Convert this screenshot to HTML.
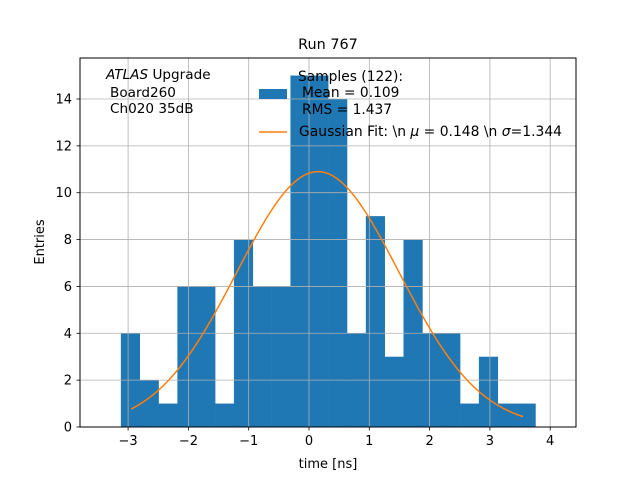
<!DOCTYPE html>
<html><head><meta charset="utf-8"><style>
body{margin:0;background:#fff}
svg text{font-family:"DejaVu Sans","Liberation Sans",sans-serif;fill:#000}
</style></head><body>
<svg id="chart" width="640" height="480">
<rect width="640" height="480" fill="#fff"/>
<g id="bars"></g>
<g id="grid"></g>
<g id="fit"></g>
<rect x="80" y="58" width="496" height="369" fill="none" stroke="#000" stroke-width="1"/>
<g id="ticks"></g>
<text x="328" y="49" font-size="14.4" text-anchor="middle">Run 767</text>
<text x="328" y="468" font-size="13" text-anchor="middle">time [ns]</text>
<text x="44" y="242" font-size="13" text-anchor="middle" transform="rotate(-90 44 242)">Entries</text>
<g font-size="13.6">
<text x="106" y="79"><tspan font-style="italic">ATLAS</tspan> Upgrade</text>
<text x="110" y="97">Board260</text>
<text x="110" y="113">Ch020 35dB</text>
</g>
<g font-size="13.8">
<rect x="259" y="89" width="28" height="10" fill="#1f77b4"/>
<text x="298" y="81">Samples (122):</text>
<text x="302" y="97">Mean = 0.109</text>
<text x="302" y="114">RMS = 1.437</text>
<line x1="259" y1="132" x2="287" y2="132" stroke="#ff7f0e" stroke-width="1.5"/>
<text x="299" y="136" textLength="263" lengthAdjust="spacingAndGlyphs">Gaussian Fit: \n <tspan font-style="italic">μ</tspan> = 0.148 \n <tspan font-style="italic">σ</tspan>=1.344</text>
</g>
</svg>
<script>
const binStart = -3.12;
const binWidth = 0.3125;
const counts = [4,2,1,6,6,1,8,6,6,15,15,14,4,9,3,8,4,4,1,3,1,1];
const fitMu = 0.148;
const fitSigma = 1.344;
const fitAmp = 10.9;
const fitRange = [-2.95, 3.55];
const xTicks = [-3,-2,-1,0,1,2,3,4];
const yTicks = [0,2,4,6,8,10,12,14];
const xTickLabels = ["−3","−2","−1","0","1","2","3","4"];

const NS='http://www.w3.org/2000/svg';
const X = v => 309 + v*60.3;
const Y = v => 427 - v*23.43;
function mk(tag, attrs, parent){const e=document.createElementNS(NS,tag);for(const k in attrs)e.setAttribute(k,attrs[k]);parent.appendChild(e);return e;}
const grid=document.getElementById('grid'), bars=document.getElementById('bars'), fit=document.getElementById('fit'), ticks=document.getElementById('ticks');
xTicks.forEach((t,i)=>{
  const g=mk('line',{x1:X(t),x2:X(t),y1:58,y2:427,stroke:'#b0b0b0','stroke-width':0.8},grid);
  
  
  const tk=mk('line',{x1:X(t),x2:X(t),y1:427,y2:430.5,stroke:'#000','stroke-width':0.8},ticks);
  
  
  const tx=mk('text',{x:X(t),y:445,'font-size':13,'text-anchor':'middle'},ticks);
  tx.textContent=xTickLabels[i];
  
  
});
yTicks.forEach(t=>{
  const g=mk('line',{x1:80,x2:576,y1:Y(t),y2:Y(t),stroke:'#b0b0b0','stroke-width':0.8},grid);
  
  
  const tk=mk('line',{x1:76.5,x2:80,y1:Y(t),y2:Y(t),stroke:'#000','stroke-width':0.8},ticks);
  
  
  const tx=mk('text',{x:72,y:Y(t)+4.5,'font-size':13,'text-anchor':'end'},ticks);
  tx.textContent=String(t);
  
  
});
counts.forEach((c,i)=>{
  const x0=X(binStart+i*binWidth), x1=X(binStart+(i+1)*binWidth);
  const r=mk('rect',{x:x0,y:Y(c),width:x1-x0+0.3,height:Y(0)-Y(c),fill:'#1f77b4'},bars);
  
  
});
let pts=[];
for(let k=0;k<=120;k++){const v=fitRange[0]+(fitRange[1]-fitRange[0])*k/120;pts.push(X(v).toFixed(2)+','+Y(fitAmp*Math.exp(-0.5*((v-fitMu)/fitSigma)**2)).toFixed(2));}
const p=mk('polyline',{points:pts.join(' '),fill:'none',stroke:'#ff7f0e','stroke-width':1.5},fit);


</script>
</body></html>
